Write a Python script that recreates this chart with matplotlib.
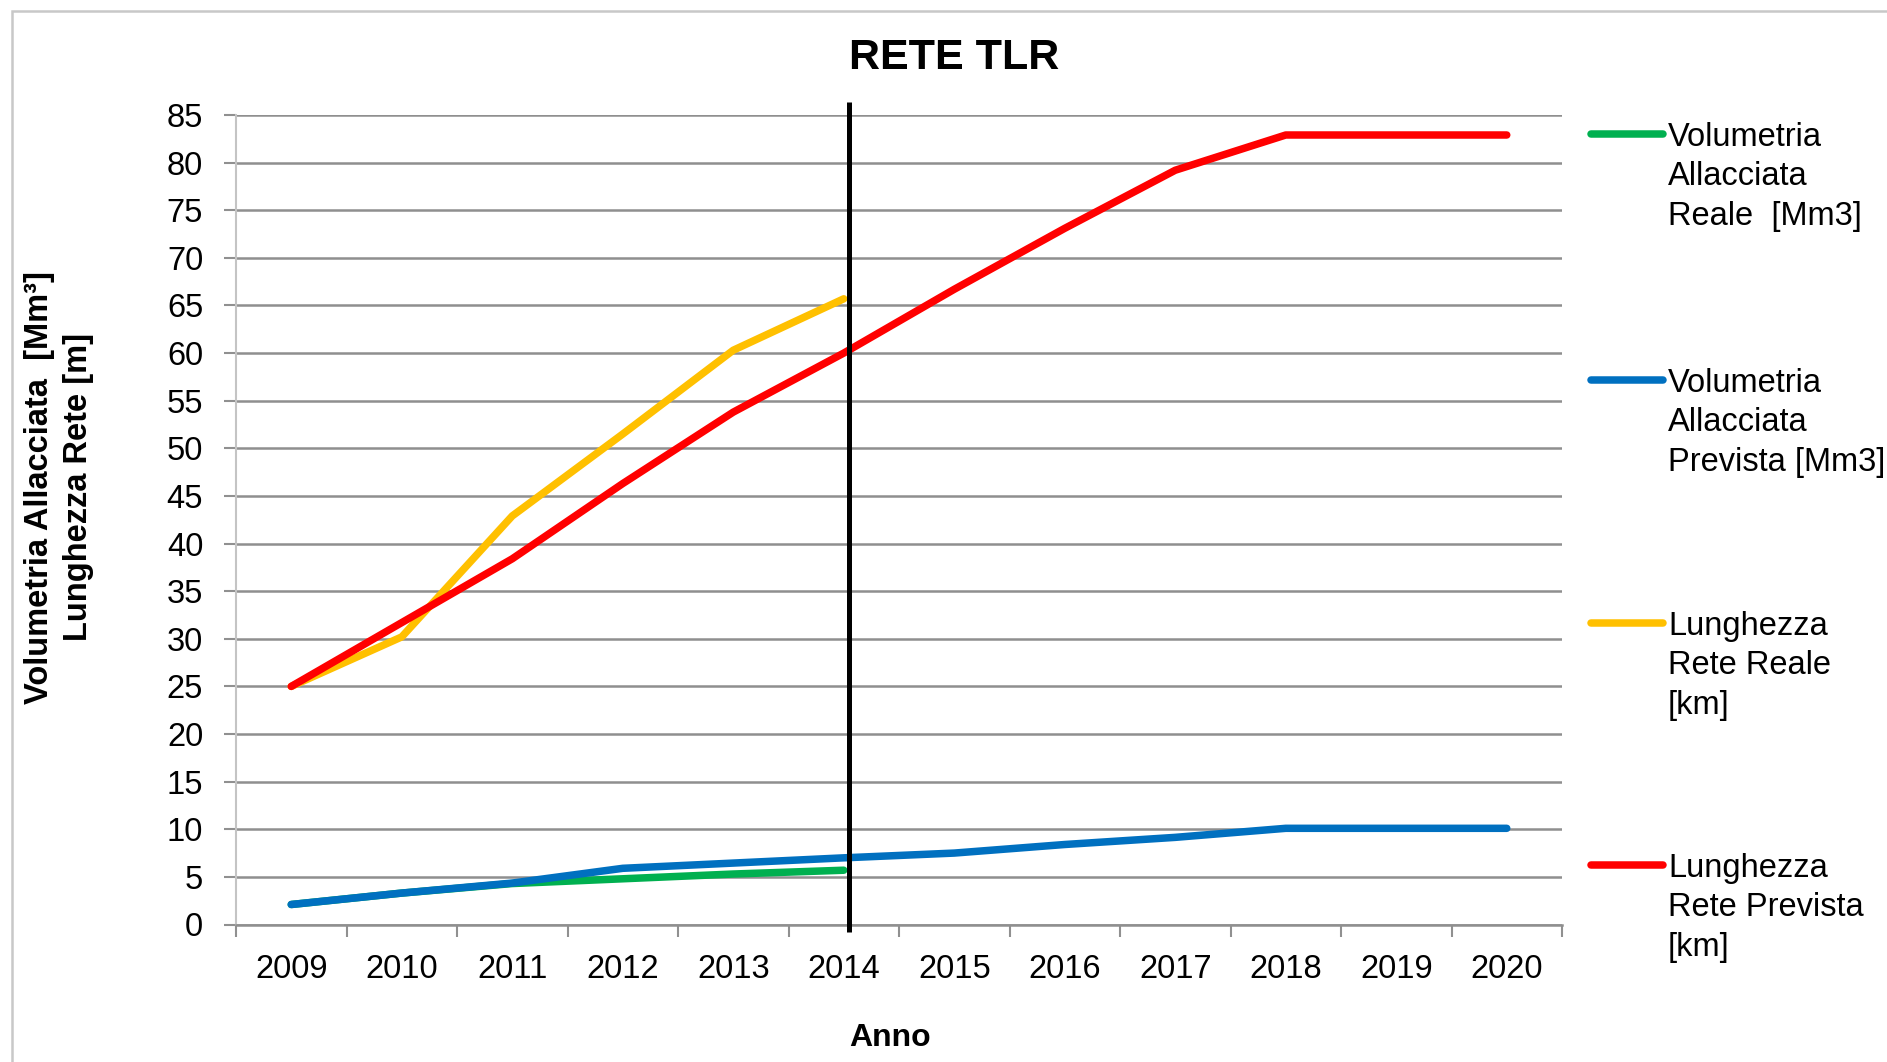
import matplotlib
matplotlib.use("Agg")
import matplotlib.pyplot as plt
from matplotlib.lines import Line2D
from matplotlib.patches import Rectangle
from matplotlib.ticker import FixedLocator

# ---------------- data ----------------
years = [2009, 2010, 2011, 2012, 2013, 2014, 2015, 2016, 2017, 2018, 2019, 2020]
vol_reale = [2.1, 3.3, 4.3, 4.8, 5.3, 5.7]                      # green
vol_prevista = [2.1, 3.3, 4.35, 5.9, 6.45, 7.0, 7.5, 8.4, 9.15, 10.1, 10.1, 10.1]  # blue
lung_reale = [25.0, 30.2, 42.9, 51.5, 60.3, 65.7]               # yellow
lung_prevista = [25.0, 31.7, 38.4, 46.3, 53.8, 60.0, 66.7, 73.1, 79.2, 82.9, 82.9, 82.9]  # red
y_ticks = list(range(0, 90, 5))
marker_year = 2014

series_labels = [
    ["Volumetria", "Allacciata", "Reale  [Mm3]"],
    ["Volumetria", "Allacciata", "Prevista [Mm3]"],
    ["Lunghezza", "Rete Reale", "[km]"],
    ["Lunghezza", "Rete Prevista", "[km]"],
]
colors = ["#00B050", "#0070C0", "#FFC000", "#FF0000"]

# ---------------- figure ----------------
W, H = 1887, 1062
fig = plt.figure(figsize=(W / 100, H / 100), dpi=100)
fig.patch.set_facecolor("white")
FONT = ["Liberation Sans", "DejaVu Sans"]


def fx(px):
    return px / W


def fy(py):
    return 1 - py / H


# outer chart border
fig.add_artist(Rectangle((fx(12), -0.2), 1.5, fy(11) + 0.2, transform=fig.transFigure,
                         fill=False, edgecolor="#c8c8c8", lw=1.8))

ax = fig.add_axes([fx(236), fy(924.5), fx(1562) - fx(236), (924.5 - 115) / H])

x = list(range(len(years)))
series = [vol_reale, vol_prevista, lung_reale, lung_prevista]
for vals, c in zip(series, colors):
    ax.plot(x[:len(vals)], vals, color=c, lw=5.4, solid_capstyle="round",
            solid_joinstyle="round", zorder=3)

# vertical marker line at 2014
xv = years.index(marker_year) + 0.05
ax.plot([xv, xv], [-0.8, 86.4], color="black", lw=3.6, clip_on=False,
        solid_capstyle="butt", zorder=5)

ax.set_xlim(-0.5, len(years) - 0.5)
ax.set_ylim(0, 85)

# y axis
ax.set_yticks(y_ticks)
ax.set_yticklabels([str(v) for v in y_ticks], fontsize=23.5, family=FONT)
ax.tick_params(axis="y", length=8.6, width=1.5, color="#909090", pad=15, direction="out")
ax.yaxis.grid(True, color="#8f8f8f", lw=1.8)
ax.set_axisbelow(True)

# x axis: labels at centres, ticks at boundaries
ax.set_xticks(x)
ax.set_xticklabels([str(y) for y in years], fontsize=23.5, family=FONT)
ax.xaxis.set_minor_locator(FixedLocator([i - 0.5 for i in range(len(years) + 1)]))
ax.tick_params(axis="x", which="major", length=0, pad=21)
ax.tick_params(axis="x", which="minor", length=8.6, width=1.5, color="#909090", direction="out")

for s in ["top", "right"]:
    ax.spines[s].set_visible(False)
ax.spines["left"].set_color("#c4c4c4")
ax.spines["left"].set_linewidth(1.5)
ax.spines["bottom"].set_color("#8f8f8f")
ax.spines["bottom"].set_linewidth(1.8)

# title & axis labels
fig.text(fx(954), fy(58), "RETE TLR", fontsize=31, fontweight="bold", family=FONT,
         ha="center", va="center")
fig.text(fx(890), fy(1038), "Anno", fontsize=23, fontweight="bold", family=FONT,
         ha="center", va="center")
fig.text(fx(40), fy(487), "Volumetria Allacciata  [Mm³]", fontsize=23.5, fontweight="bold",
         family=FONT, rotation=90, ha="center", va="center")
fig.text(fx(79), fy(487), "Lunghezza Rete [m]", fontsize=23.5, fontweight="bold",
         family=FONT, rotation=90, ha="center", va="center")

# legend (manual, right side)
legend_y = [134, 380, 623, 865]
line_gap = 39.3
for lines, c, ly in zip(series_labels, colors, legend_y):
    fig.add_artist(Line2D([fx(1591), fx(1663)], [fy(ly), fy(ly)], color=c, lw=5.4,
                          solid_capstyle="round", transform=fig.transFigure))
    for i, t in enumerate(lines):
        fig.text(fx(1668), fy(ly + i * line_gap), t, fontsize=23.5, family=FONT,
                 ha="left", va="center_baseline")

fig.savefig("out.png", dpi=100)
